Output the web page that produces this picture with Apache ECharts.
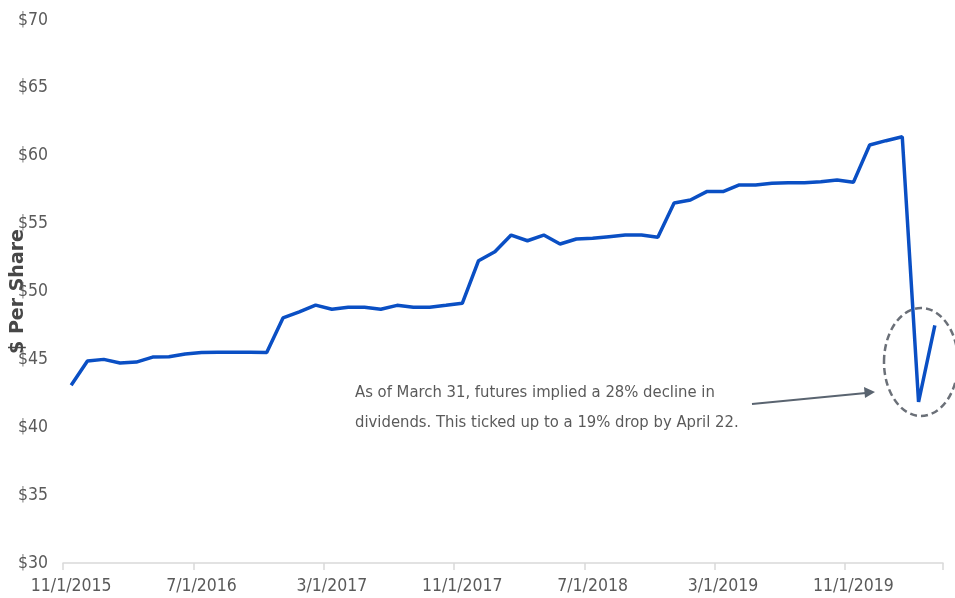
<!DOCTYPE html>
<html>
<head>
<meta charset="utf-8">
<script src="https://cdn.jsdelivr.net/npm/echarts@6/dist/echarts.min.js"></script>
<style>html,body{margin:0;padding:0;background:#fff}#c{width:955px;height:598px}</style>
</head>
<body>
<div id="c"></div>
<script>
// Monthly categories: 11/1/2015 ... 4/1/2020
var months = [
  '11/1/2015','12/1/2015',
  '1/1/2016','2/1/2016','3/1/2016','4/1/2016','5/1/2016','6/1/2016','7/1/2016','8/1/2016','9/1/2016','10/1/2016','11/1/2016','12/1/2016',
  '1/1/2017','2/1/2017','3/1/2017','4/1/2017','5/1/2017','6/1/2017','7/1/2017','8/1/2017','9/1/2017','10/1/2017','11/1/2017','12/1/2017',
  '1/1/2018','2/1/2018','3/1/2018','4/1/2018','5/1/2018','6/1/2018','7/1/2018','8/1/2018','9/1/2018','10/1/2018','11/1/2018','12/1/2018',
  '1/1/2019','2/1/2019','3/1/2019','4/1/2019','5/1/2019','6/1/2019','7/1/2019','8/1/2019','9/1/2019','10/1/2019','11/1/2019','12/1/2019',
  '1/1/2020','2/1/2020','3/1/2020','4/1/2020'
];
// Dividend futures, $ per share
var dividendValues = [
  43.1, 44.88,
  45.0, 44.73, 44.8, 45.17, 45.2, 45.4, 45.5, 45.52, 45.52, 45.52, 45.5, 48.05,
  48.5, 49.0, 48.69, 48.84, 48.84, 48.69, 48.98, 48.84, 48.84, 48.98, 49.13, 52.27,
  52.93, 54.16, 53.74, 54.16, 53.5, 53.87, 53.92, 54.04, 54.16, 54.16, 53.99, 56.52,
  56.74, 57.36, 57.36, 57.85, 57.85, 57.97, 58.02, 58.02, 58.09, 58.21, 58.04, 60.79,
  61.11, 61.4, 41.86, 47.5
];
var yMin = 30, yMax = 70, yStep = 5;
var yAxisTitle = '$ Per Share';
var noteLines = ['As of March 31, futures implied a 28% decline in', 'dividends. This ticked up to a 19% drop by April 22.'];

var chart = echarts.init(document.getElementById('c'), null, {renderer: 'canvas'});
var labelFont = '"DejaVu Sans Condensed", "Liberation Sans Narrow", sans-serif';
chart.setOption({
  animation: false,
  backgroundColor: '#ffffff',
  grid: {left: 63, right: 12, top: 20, bottom: 35, containLabel: false, outerBoundsMode: 'none'},
  xAxis: {
    type: 'category',
    data: months,
    boundaryGap: true,
    axisLine: {show: true, lineStyle: {color: '#d9d9d9', width: 1.5}},
    axisTick: {show: true, interval: 7, length: 7, lineStyle: {color: '#d9d9d9', width: 1.5}},
    axisLabel: {interval: 7, color: '#5a5a5a', fontSize: 17.5, fontFamily: labelFont, margin: 14, hideOverlap: false},
    splitLine: {show: false}
  },
  yAxis: {
    type: 'value',
    min: yMin, max: yMax, interval: yStep,
    name: yAxisTitle,
    nameLocation: 'middle',
    nameGap: 35,
    nameRotate: 90,
    nameMoveOverlap: false,
    nameTextStyle: {color: '#474747', fontSize: 19, fontWeight: 'bold', fontFamily: '"DejaVu Sans", sans-serif'},
    axisLine: {show: false},
    axisTick: {show: false},
    splitLine: {show: false},
    axisLabel: {
      color: '#5a5a5a', fontSize: 17.5, fontFamily: labelFont, margin: 15,
      formatter: function (v) { return '$' + v; }
    }
  },
  series: [{
    type: 'line',
    data: dividendValues,
    showSymbol: false,
    symbol: 'none',
    lineStyle: {color: '#0a4fc4', width: 3.5},
    z: 3
  }],
  graphic: [
    {
      type: 'text', left: 355, top: 378,
      style: {
        text: noteLines.join('\n'),
        fill: '#5a5a5a',
        font: '16.5px "DejaVu Sans Condensed", sans-serif',
        lineHeight: 30
      }
    },
    {
      type: 'line',
      shape: {x1: 752, y1: 404, x2: 866, y2: 393},
      style: {stroke: '#5a6470', lineWidth: 2}
    },
    {
      type: 'polygon',
      shape: {points: [[875, 392], [864, 387], [865, 398]]},
      style: {fill: '#5a6470'}
    },
    {
      type: 'ellipse',
      shape: {cx: 921, cy: 362, rx: 37, ry: 54},
      style: {fill: 'none', stroke: '#6b7078', lineWidth: 2.5, lineDash: [7, 4]},
      z: 10
    }
  ]
});
</script>
</body>
</html>
